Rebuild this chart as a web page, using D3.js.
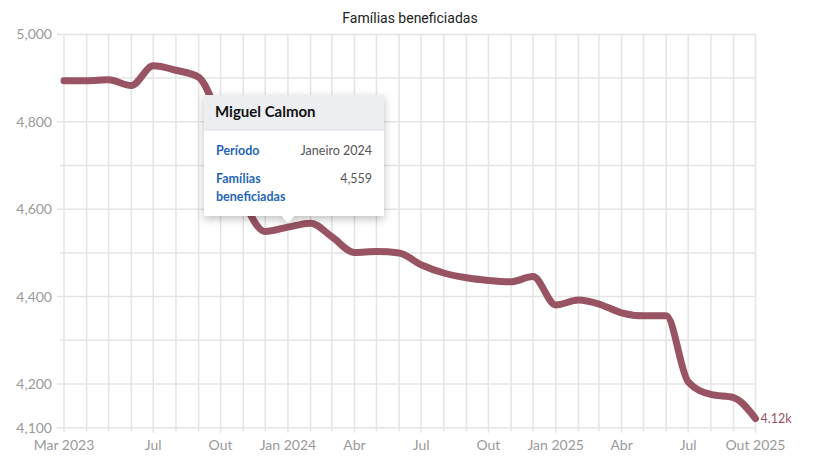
<!DOCTYPE html>
<html>
<head>
<meta charset="utf-8">
<script src="https://cdn.jsdelivr.net/npm/d3@7"></script>
<style>
  body { margin: 0; background: #fff; }
  svg text { font-family: Lato, "Noto Sans", sans-serif; }
</style>
</head>
<body>
<svg id="chart" width="817" height="471"></svg>
<script>
// monthly data, Mar 2023 .. Out 2025
const months = [
  "2023-03","2023-04","2023-05","2023-06","2023-07","2023-08","2023-09","2023-10","2023-11","2023-12",
  "2024-01","2024-02","2024-03","2024-04","2024-05","2024-06","2024-07","2024-08","2024-09","2024-10","2024-11","2024-12",
  "2025-01","2025-02","2025-03","2025-04","2025-05","2025-06","2025-07","2025-08","2025-09","2025-10"
]
const familias = [
  4894, 4894, 4896, 4883, 4928, 4918, 4902, 4795, 4625, 4549,
  4559, 4568, 4537, 4501, 4503, 4500, 4473, 4454, 4443, 4437, 4434, 4446,
  4381, 4392, 4383, 4363, 4356, 4356, 4205, 4176, 4169, 4121
]
const yTicks = [4100, 4200, 4300, 4400, 4500, 4600, 4700, 4800, 4900, 5000]
const yLabeled = [4100, 4200, 4400, 4600, 4800, 5000]
const monthNames = ["Jan","Fev","Mar","Abr","Mai","Jun","Jul","Ago","Set","Out","Nov","Dez"]
const tooltipIndex = 10 // Janeiro 2024

const parse = d3.timeParse("%Y-%m")
const data = months.map((m, i) => ({ date: parse(m), value: familias[i] }))

const svg = d3.select("#chart")
const x = d3.scaleTime()
  .domain(d3.extent(data, d => d.date))
  .range([64, 755.5])
const y = d3.scaleLinear()
  .domain([4100, 5000])
  .range([427.7, 34.4])

const grey = "#9a9a9a"
const gridColor = "#e4e4e4"

// which months get a label: first, then every quarter (skip one too close to the first)
const isLabeled = (d, i) => i === 0 || (d.date.getMonth() % 3 === 0 && i > 2)

// title
svg.append("text")
  .attr("x", 410).attr("y", 23)
  .attr("text-anchor", "middle")
  .style("font-family", "Roboto, sans-serif")
  .style("font-size", "14px")
  .attr("fill", "#222")
  .text("Famílias beneficiadas")

// grid
const grid = svg.append("g")
grid.selectAll("line.h").data(yTicks).enter().append("line")
  .attr("class", "h")
  .attr("x1", d => yLabeled.includes(d) ? 57 : 60).attr("x2", x.range()[1])
  .attr("y1", d => y(d)).attr("y2", d => y(d))
  .attr("stroke", gridColor).attr("stroke-width", 1.5)

grid.selectAll("line.v").data(data).enter().append("line")
  .attr("class", "v")
  .attr("x1", d => x(d.date)).attr("x2", d => x(d.date))
  .attr("y1", y(5000)).attr("y2", (d, i) => y(4100) + (isLabeled(d, i) ? 5 : 3.5))
  .attr("stroke", gridColor).attr("stroke-width", 1.5)

// y labels
svg.append("g").selectAll("text").data(yLabeled).enter().append("text")
  .attr("x", 52).attr("y", d => y(d))
  .attr("dy", "0.35em")
  .attr("text-anchor", "end")
  .attr("fill", grey)
  .style("font-size", "14px")
  .text(d => d3.format(",")(d))

// x labels
const xLabelData = data.filter(isLabeled)
svg.append("g").selectAll("text").data(xLabelData).enter().append("text")
  .attr("x", d => x(d.date)).attr("y", 450)
  .attr("text-anchor", "middle")
  .attr("fill", grey)
  .style("font-size", "14px")
  .text((d, i) => {
    const m = monthNames[d.date.getMonth()]
    const first = i === 0, last = i === xLabelData.length - 1
    return (first || last || d.date.getMonth() === 0) ? m + " " + d.date.getFullYear() : m
  })

// line
const line = d3.line()
  .x(d => x(d.date))
  .y(d => y(d.value))
  .curve(d3.curveMonotoneX)

const lineColor = "#985462"
svg.append("path")
  .datum(data)
  .attr("d", line)
  .attr("fill", "none")
  .attr("stroke", lineColor)
  .attr("stroke-width", 7)
  .attr("stroke-linecap", "round")
  .attr("stroke-linejoin", "round")

const lastPt = data[data.length - 1]
svg.append("text")
  .attr("x", x(lastPt.date) + 5).attr("y", y(lastPt.value))
  .attr("dy", "0.35em")
  .attr("fill", lineColor)
  .style("font-size", "12.5px")
  .text(d3.format(".3s")(lastPt.value))

// tooltip
const defs = svg.append("defs")
const f = defs.append("filter").attr("id", "shadow")
  .attr("x", "-20%").attr("y", "-20%").attr("width", "140%").attr("height", "150%")
f.append("feDropShadow")
  .attr("dx", 0).attr("dy", 3).attr("stdDeviation", 4)
  .attr("flood-color", "#000").attr("flood-opacity", 0.25)

const tp = data[tooltipIndex]
const tx = 204, ty = 95, tw = 180, th = 121
const tip = svg.append("g")
const px = x(tp.date)
tip.append("path")
  .attr("d", `M${tx},${ty}h${tw}v${th}H${px + 6}l-6,7l-6,-7H${tx}Z`)
  .attr("fill", "#fff")
  .attr("filter", "url(#shadow)")
tip.append("rect")
  .attr("x", tx).attr("y", ty).attr("width", tw).attr("height", 35)
  .attr("fill", "#eceef1")
tip.append("line")
  .attr("x1", tx).attr("x2", tx + tw).attr("y1", ty + 35).attr("y2", ty + 35)
  .attr("stroke", "#dfe2e6")
tip.append("text")
  .attr("x", tx + 11).attr("y", ty + 17).attr("dy", "0.35em")
  .attr("fill", "#111").style("font-size", "15px").style("font-weight", 700)
  .text("Miguel Calmon")

const blue = "#1f66b8"
const valGrey = "#555"
tip.append("text").attr("x", tx + 12).attr("y", ty + 56).attr("dy", "0.35em")
  .attr("fill", blue).style("font-size", "12.5px").style("font-weight", 700)
  .text("Período")
tip.append("text").attr("x", tx + tw - 12).attr("y", ty + 56).attr("dy", "0.35em")
  .attr("text-anchor", "end")
  .attr("fill", valGrey).style("font-size", "12.5px")
  .text("Janeiro " + tp.date.getFullYear())
tip.append("text").attr("x", tx + 12).attr("y", ty + 84).attr("dy", "0.35em")
  .attr("fill", blue).style("font-size", "12.5px").style("font-weight", 700)
  .text("Famílias")
tip.append("text").attr("x", tx + 12).attr("y", ty + 102).attr("dy", "0.35em")
  .attr("fill", blue).style("font-size", "12.5px").style("font-weight", 700)
  .text("beneficiadas")
tip.append("text").attr("x", tx + tw - 12).attr("y", ty + 84).attr("dy", "0.35em")
  .attr("text-anchor", "end")
  .attr("fill", valGrey).style("font-size", "12.5px")
  .text(d3.format(",")(tp.value))
</script>
</body>
</html>
